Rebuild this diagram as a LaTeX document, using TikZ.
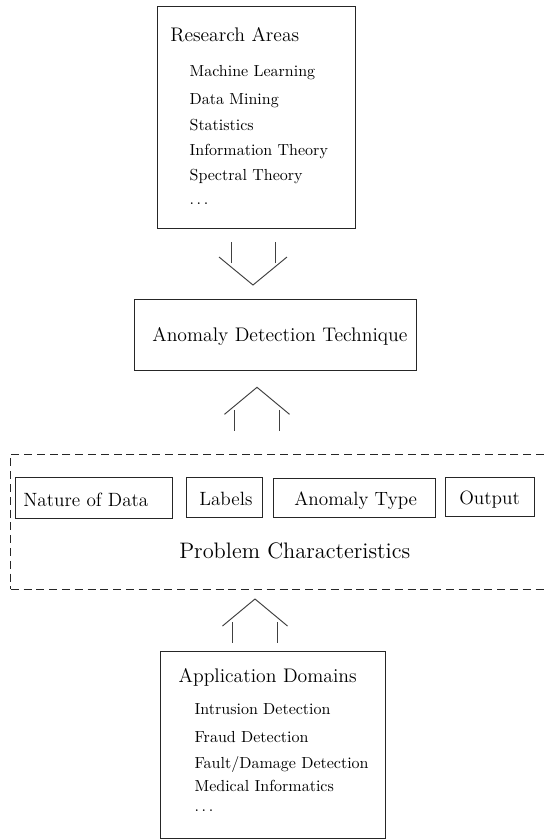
\documentclass[tikz,border=0pt]{standalone}
\usetikzlibrary{fit}
\begin{document}
\begin{tikzpicture}[x=0.625pt,y=-0.625pt,
  box/.style={draw=black!85,line width=0.6pt,inner sep=0pt,fit={#1}},
  dbox/.style={draw=black!85,line width=0.6pt,inner sep=0pt,dash pattern=on 5pt off 3pt,fit={#1}},
  lbl/.style={anchor=base west,inner sep=0pt,font=\fontsize{12}{14}\selectfont},
  ttl/.style={anchor=base west,inner sep=0pt,font=\fontsize{12.3}{14}\selectfont},
  itm/.style={anchor=base west,inner sep=0pt,font=\fontsize{10}{12}\selectfont},
  arrowline/.style={draw=black!75,line width=0.6pt},
  uparrow/.pic={\draw[arrowline] (-32.5,27) -- (0,0) -- (32.5,27);
    \draw[arrowline] (-22.5,23) -- (-22.5,44) (22.5,23) -- (22.5,44);},
  downarrow/.pic={\draw[arrowline] (-34,-28) -- (0,0) -- (34,-28);
    \draw[arrowline] (-22,-22) -- (-22,-43.3) (22,-22) -- (22,-43.3);}
]
\useasboundingbox (0,0) rectangle (544,839);

% Research areas
\node[box={(157.3,6) (355.7,228.7)}] (ra) {};
\node[ttl] (raT) at (170,41.7) {Research Areas};
\node[itm] (ra1) at (189.3,76) {Machine Learning};
\node[itm] (ra2) at (189.3,104) {Data Mining};
\node[itm] (ra3) at (189.3,130) {Statistics};
\node[itm] (ra4) at (189.3,155) {Information Theory};
\node[itm] (ra5) at (189.3,180) {Spectral Theory};
\node[itm] (ra6) at (189.3,204) {$\ldots$};

% Technique
\node[box={(134,299) (416.7,370)}] (adt) {};
\node[ttl] (adtT) at (152,341.7) {Anomaly Detection Technique};

% Problem characteristics
\node[dbox={(10.7,454) (549,589)}] (pc) {};
\node[box={(15,477.7) (172,518)}] (nod) {};
\node[lbl] (nodT) at (23,506.5) {Nature of Data};
\node[box={(186,477.5) (262.7,517.5)}] (lab) {};
\node[lbl] (labT) at (199,505) {Labels};
\node[box={(273.7,478.5) (435.7,517.5)}] (at) {};
\node[lbl] (atT) at (294,505) {Anomaly Type};
\node[box={(445.7,477.7) (534,516.5)}] (out) {};
\node[lbl] (outT) at (459,504.5) {Output};
\node[anchor=base west,inner sep=0pt,font=\fontsize{14}{17}\selectfont] (pcT) at (179,558.3) {Problem Characteristics};

% Application domains
\node[box={(160,651) (385.7,838)}] (ad) {};
\node[ttl] (adT) at (178.3,682.7) {Application Domains};
\node[itm] (ad1) at (194.3,714) {Intrusion Detection};
\node[itm] (ad2) at (194.3,742.7) {Fraud Detection};
\node[itm] (ad3) at (194.3,768.3) {Fault/Damage Detection};
\node[itm] (ad4) at (194.3,791.7) {Medical Informatics};
\node[itm] (ad5) at (194.3,811.7) {$\ldots$};

% block arrows
\coordinate (a1) at (253,285);
\coordinate (a2) at (257,387.3);
\coordinate (a3) at (255,599);
\pic at (a1) {downarrow};
\pic at (a2) {uparrow};
\pic at (a3) {uparrow};
\end{tikzpicture}
\end{document}
